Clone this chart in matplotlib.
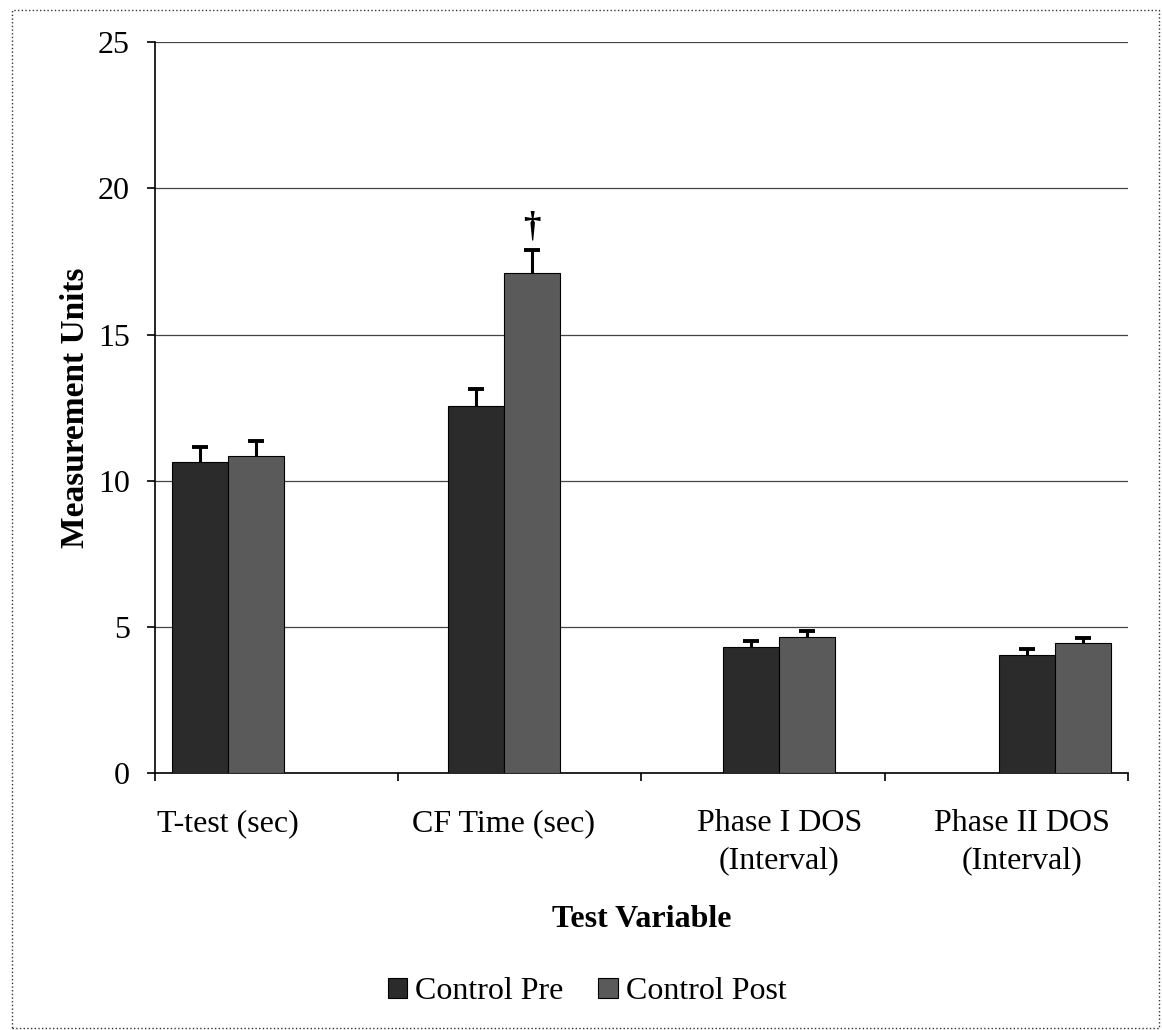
import numpy as np
import matplotlib.pyplot as plt
from matplotlib.patches import Rectangle
from matplotlib.transforms import ScaledTranslation

categories = ['T-test (sec)', 'CF Time (sec)', 'Phase I DOS\n(Interval)', 'Phase II DOS\n(Interval)']
pre_means = [10.65, 12.55, 4.3, 4.05]
pre_err = [0.5, 0.6, 0.2, 0.18]
post_means = [10.85, 17.1, 4.65, 4.45]
post_err = [0.5, 0.8, 0.2, 0.18]
series_names = ['Control Pre', 'Control Post']
marker_text = '\u2020'

plt.rcParams['font.family'] = ['Liberation Serif', 'DejaVu Serif']

fig = plt.figure(figsize=(11.62, 10.30), dpi=100)
ax = fig.add_axes([0.1334, 0.2495, 0.8373, 0.7095])

x = np.arange(len(categories))
w = 0.203
ax.bar(x - w / 2, pre_means, w, color='#2b2b2b', edgecolor='black', linewidth=0.8,
       label=series_names[0], zorder=3)
ax.bar(x + w / 2, post_means, w, color='#5a5a5a', edgecolor='black', linewidth=0.8,
       label=series_names[1], zorder=3)

# upper error bars only
for pos, means, err in [(x - w / 2, pre_means, pre_err), (x + w / 2, post_means, post_err)]:
    eb = ax.errorbar(pos, means, yerr=[np.zeros(len(err)), err], fmt='none', ecolor='black',
                     elinewidth=2.2, capsize=6, capthick=2.8, zorder=4)
    for cap in eb[1]:
        if np.allclose(cap.get_ydata(), means):
            cap.set_visible(False)

# significance marker above CF post
ax.text(x[1] + w / 2, post_means[1] + post_err[1] + 0.2, marker_text,
        ha='center', va='bottom', fontsize=25, fontweight='bold')

ax.set_ylim(0, 25)
ax.set_yticks([0, 5, 10, 15, 20, 25])
ax.set_xlim(-0.265, 3.265)
ax.yaxis.grid(True, color='#444444', linewidth=0.9)
ax.set_axisbelow(True)
for s in ['top', 'right']:
    ax.spines[s].set_visible(False)
ax.spines['left'].set_linewidth(1.2)
ax.spines['bottom'].set_linewidth(1.2)

bounds = np.linspace(-0.265, 3.265, 5)
ax.set_xticks(bounds, minor=True)
ax.set_xticks(x)
ax.set_xticklabels(categories, fontsize=23)
ax.tick_params(axis='x', which='major', length=0, pad=26)
ax.tick_params(axis='x', which='minor', length=6, direction='out', width=1.2)
ax.tick_params(axis='y', labelsize=23, length=6, width=1.2, pad=12)
for lbl in ax.get_xticklabels():
    lbl.set_linespacing(1.35)
# last label sits a bit left of its bars, as in the original
last = ax.xaxis.get_major_ticks()[-1].label1
last.set_transform(last.get_transform() + ScaledTranslation(-0.33, 0, fig.dpi_scale_trans))

ax.set_ylabel('Measurement Units', fontsize=24, fontweight='bold', labelpad=5)
ax.set_xlabel('Test Variable', fontsize=23, fontweight='bold', labelpad=22)

fig.legend(*ax.get_legend_handles_labels(), loc='center', bbox_to_anchor=(587 / 1162, 0.037),
           ncol=2, frameon=False, fontsize=23, handlelength=0.6, handleheight=0.6,
           handletextpad=0.25, columnspacing=1.1)

fig.patches.append(Rectangle((0.01, 0.002), 0.987, 0.988, transform=fig.transFigure,
                             fill=False, edgecolor='#333333', linewidth=1.0, linestyle=':'))

fig.savefig('out.png', dpi=100)
